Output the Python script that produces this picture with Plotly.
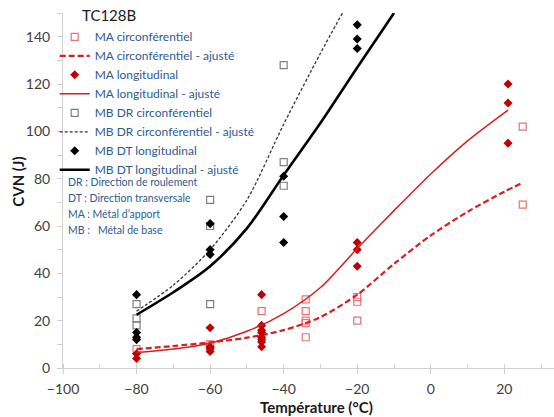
import plotly.graph_objects as go

# ---- data ----
ma_circ_T = [-80, -60, -46, -34, -34, -34, -34, -34, -20, -20, -20, 25, 25]
ma_circ_cvn = [8, 10, 24, 29, 24, 20, 19, 13, 30, 28, 20, 102, 69]

ma_circ_fit_T = [-80, -70, -60, -50, -40, -30, -20, -10, 0, 10, 20, 25]
ma_circ_fit_cvn = [8, 9.3, 10.8, 12.8, 16, 21.5, 31, 44, 56, 66, 74.5, 78.3]

ma_long_T = [-80, -80, -60, -60, -60, -60, -46, -46, -46, -46, -46, -46, -46, -46,
             -20, -20, -20, 21, 21, 21]
ma_long_cvn = [6, 4, 17, 9, 8, 7, 31, 18, 16, 15, 13, 12, 11, 9,
               53, 50, 43, 120, 112, 95]

ma_long_fit_T = [-80, -70, -60, -50, -40, -30, -20, -10, 0, 10, 21]
ma_long_fit_cvn = [6.5, 8, 10.5, 15.5, 23, 34, 50.5, 66.5, 82, 96, 109]

mb_dr_T = [-80, -80, -80, -60, -60, -60, -40, -40, -40]
mb_dr_cvn = [27, 21, 18, 71, 60, 27, 128, 87, 77]

mb_dr_fit_T = [-80, -70, -60, -50, -40, -30, -24]
mb_dr_fit_cvn = [24, 35, 50, 71, 103, 133, 150]

mb_dt_T = [-80, -80, -80, -80, -60, -60, -60, -40, -40, -40, -20, -20, -20]
mb_dt_cvn = [31, 15, 13, 12, 61, 50, 48, 81, 64, 53, 145, 139, 135]

mb_dt_fit_T = [-80, -70, -60, -50, -40, -30, -20, -10]
mb_dt_fit_cvn = [22.5, 32, 43, 59, 81.5, 103.5, 127, 150]

notes = ["DR : Direction de roulement", "DT : Direction transversale",
         "MA : Métal d’apport", "MB :\u00a0\u00a0 Métal de base"]

FONT = "Lato"
fig = go.Figure()

fig.add_trace(go.Scatter(x=ma_circ_T, y=ma_circ_cvn, mode="markers", name="MA circonférentiel",
                         marker=dict(symbol="square-open", size=7, color="#E57373", line=dict(width=1.2))))
fig.add_trace(go.Scatter(x=ma_circ_fit_T, y=ma_circ_fit_cvn, mode="lines", name="MA circonférentiel - ajusté",
                         line=dict(color="#D42020", width=2.2, dash="6px,3px", shape="spline", smoothing=0.8)))
fig.add_trace(go.Scatter(x=ma_long_T, y=ma_long_cvn, mode="markers", name="MA longitudinal",
                         marker=dict(symbol="diamond", size=7, color="#C00000")))
fig.add_trace(go.Scatter(x=ma_long_fit_T, y=ma_long_fit_cvn, mode="lines", name="MA longitudinal - ajusté",
                         line=dict(color="#D42020", width=1.5, shape="spline", smoothing=0.8)))
fig.add_trace(go.Scatter(x=mb_dr_T, y=mb_dr_cvn, mode="markers", name="MB DR circonférentiel",
                         marker=dict(symbol="square-open", size=7, color="#7F7F7F", line=dict(width=1.2))))
fig.add_trace(go.Scatter(x=mb_dr_fit_T, y=mb_dr_fit_cvn, mode="lines", name="MB DR circonférentiel - ajusté",
                         line=dict(color="#333333", width=1.3, dash="3px,2px", shape="spline", smoothing=0.8)))
fig.add_trace(go.Scatter(x=mb_dt_T, y=mb_dt_cvn, mode="markers", name="MB DT longitudinal",
                         marker=dict(symbol="diamond", size=7, color="#000000")))
fig.add_trace(go.Scatter(x=mb_dt_fit_T, y=mb_dt_fit_cvn, mode="lines", name="MB DT longitudinal - ajusté",
                         line=dict(color="#000000", width=2.6, shape="spline", smoothing=0.8)))

W, H = 554, 417
L, R, T, B = 63.3, 0, 12.7, 48.7
pw, ph = W - L - R, H - T - B

def px(xp):
    return (xp - L) / pw

def py(yp):
    return (H - B - yp) / ph

annots = [dict(text="TC128B", x=px(80), y=py(15), xref="paper", yref="paper",
               xanchor="left", yanchor="middle", showarrow=False,
               font=dict(family=FONT, size=15, color="#1a1a1a"))]
for i, t in enumerate(notes):
    annots.append(dict(text=t, x=px(66), y=py(182 + 16 * i), xref="paper", yref="paper",
                       xanchor="left", yanchor="middle", showarrow=False,
                       font=dict(family=FONT, size=10.5, color="#2E5B8E")))
annots.append(dict(text="<b>Température (°C)</b>", x=px(317), y=py(407), xref="paper", yref="paper",
                   xanchor="center", yanchor="middle", showarrow=False,
                   font=dict(family=FONT, size=15, color="#1a1a1a")))
annots.append(dict(text="<b>CVN (J)</b>", x=px(18), y=py(182), xref="paper", yref="paper",
                   xanchor="center", yanchor="middle", showarrow=False, textangle=-90,
                   font=dict(family=FONT, size=15, color="#1a1a1a")))

fig.update_layout(
    width=W, height=H,
    margin=dict(l=L, r=R, t=T, b=B, pad=0),
    paper_bgcolor="white", plot_bgcolor="white",
    font=dict(family=FONT, color="#404040"),
    showlegend=True,
    legend=dict(x=px(55), y=py(22), xanchor="left", yanchor="top",
                bgcolor="rgba(0,0,0,0)", borderwidth=0, itemwidth=30,
                font=dict(family=FONT, size=12, color="#2E5B8E"), tracegroupgap=0),
    annotations=annots,
    xaxis=dict(range=[-100, 33.5], dtick=20, tick0=-100, showgrid=False, zeroline=False,
               automargin=False, ticklabelstandoff=3,
               showline=True, linecolor="#D0D0D0", linewidth=1,
               ticks="outside", ticklen=5, tickcolor="#D0D0D0",
               minor=dict(dtick=10, ticks="inside", ticklen=4, tickcolor="#D0D0D0"),
               tickfont=dict(family=FONT, size=14, color="#404040")),
    yaxis=dict(range=[0, 150], tickvals=[0, 20, 40, 60, 80, 100, 120, 140], showgrid=False, zeroline=False,
               automargin=False, ticklabelstandoff=4,
               showline=True, linecolor="#D0D0D0", linewidth=1,
               ticks="outside", ticklen=5, tickcolor="#D0D0D0",
               minor=dict(dtick=10, ticks="outside", ticklen=5, tickcolor="#D0D0D0"),
               tickfont=dict(family=FONT, size=14, color="#404040")),
)

fig.write_html("out.html", config={"displayModeBar": False},
               post_script="document.body.style.margin='0px';document.body.style.overflow='hidden';")
